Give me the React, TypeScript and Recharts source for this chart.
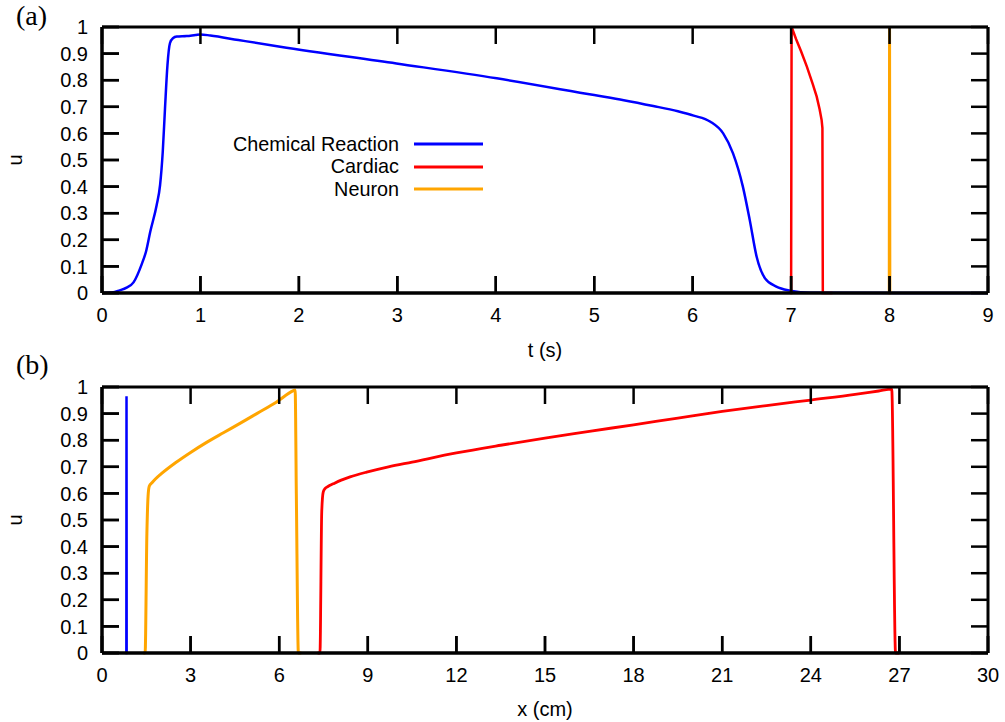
import React from "react";
import { Legend, Line, LineChart, ReferenceLine, XAxis, YAxis } from "recharts";

// panel (a): u against t (s)
const chemT = [0, 0.1, 0.18, 0.25, 0.32, 0.4, 0.45, 0.49, 0.555, 0.59, 0.617, 0.64, 0.665, 0.69, 0.72, 0.76, 0.86, 0.95, 1.0, 1.1, 1.385, 1.81, 2.99, 4.01, 5.0, 5.3, 5.6, 5.85, 6.01, 6.18, 6.31, 6.41, 6.51, 6.58, 6.65, 6.735, 6.85, 6.99, 7.2, 9];
const chemU = [0, 0.002, 0.01, 0.02, 0.04, 0.105, 0.16, 0.23, 0.33, 0.406, 0.53, 0.694, 0.857, 0.939, 0.958, 0.964, 0.966, 0.97, 0.972, 0.968, 0.951, 0.926, 0.863, 0.807, 0.744, 0.725, 0.703, 0.683, 0.667, 0.644, 0.6, 0.525, 0.4, 0.274, 0.136, 0.055, 0.024, 0.009, 0.001, 0];

const cardT = [6.99, 7.0, 7.005, 7.05, 7.1, 7.16, 7.22, 7.26, 7.29, 7.31, 7.318, 7.322, 7.42];
const cardU = [0, 0, 1.0, 0.955, 0.91, 0.851, 0.785, 0.738, 0.69, 0.65, 0.62, 0, 0];

const neurT = [7.99, 7.997, 8.0, 8.003, 8.01];
const neurU = [0, 0, 1.0, 0, 0];

// panel (b): u against x (cm)
const chemX = [0.8, 0.825, 0.83, 0.835, 0.86];
const chemXU = [0, 0, 0.965, 0, 0];

const cardX = [7.3, 7.38, 7.44, 7.49, 7.55, 7.65, 7.83, 8.1, 8.4, 8.96, 9.7, 10.5, 12, 13.5, 15, 16.5, 18, 19.5, 21, 22.5, 24, 25.5, 26.3, 26.74, 26.87, 27.0];
const cardXU = [0, 0, 0.53, 0.605, 0.618, 0.626, 0.636, 0.65, 0.662, 0.68, 0.7, 0.718, 0.752, 0.781, 0.808, 0.833, 0.858, 0.883, 0.908, 0.93, 0.951, 0.972, 0.985, 0.992, 0, 0];

const neurX = [1.4, 1.46, 1.52, 1.56, 1.6, 1.7, 1.8, 2.0, 2.5, 3.0, 3.5, 4.11, 4.7, 5.24, 5.9, 6.48, 6.54, 6.58, 6.65, 6.75];
const neurXU = [0, 0, 0.45, 0.59, 0.627, 0.641, 0.653, 0.673, 0.716, 0.754, 0.789, 0.828, 0.865, 0.9, 0.943, 0.986, 0.989, 0.6, 0, 0];

const tTicks = [0, 1, 2, 3, 4, 5, 6, 7, 8, 9];
const xTicks = [0, 3, 6, 9, 12, 15, 18, 21, 24, 27, 30];
const uTicks = [0, 0.1, 0.2, 0.3, 0.4, 0.5, 0.6, 0.7, 0.8, 0.9, 1];

const seriesNames = ["Chemical Reaction", "Cardiac", "Neuron"];
const COLORS = ["#0000ff", "#ff0000", "#ffa500"];

const FONT = '"Liberation Sans", Arial, Helvetica, sans-serif';
const SERIF = '"Liberation Serif", "Times New Roman", serif';
const TICK = 17;
const PLOT_W = 886;
const PLOT_H = 266;
const EPS = 1e-6;

// keep reference coordinates off an exact zero
const nz = (v: number) => (v === 0 ? EPS : v);

const zip = (xs: number[], ys: number[]) => xs.map((x, i) => ({ x, u: ys[i] }));

const seriesA = [zip(chemT, chemU), zip(cardT, cardU), zip(neurT, neurU)];
const seriesB = [zip(chemX, chemXU), zip(cardX, cardXU), zip(neurX, neurXU)];

function renderLegend({ payload }: any) {
  const items = [...(payload || [])].sort(
    (a: any, b: any) => seriesNames.indexOf(a.value) - seriesNames.indexOf(b.value)
  );
  return (
    <div style={{ fontFamily: FONT, fontSize: 19.8, color: "#000" }}>
      {items.map((entry: any) => (
        <div key={entry.value} style={{ display: "flex", alignItems: "center", height: 22.5 }}>
          <span style={{ width: 199, textAlign: "right", whiteSpace: "nowrap" }}>{entry.value}</span>
          <svg width={84} height={6}>
            <line x1={15} x2={84} y1={3} y2={3} stroke={entry.color} strokeWidth={3} />
          </svg>
        </div>
      ))}
    </div>
  );
}

function Panel({
  series,
  ticks,
  domain,
  height,
  top,
  curve,
  widths,
  legend,
}: {
  series: { x: number; u: number }[][];
  ticks: number[];
  domain: [number, number];
  height: number;
  top: number;
  curve: ("monotone" | "linear")[];
  widths: number[];
  legend?: boolean;
}) {
  const [x0, x1] = domain;
  const xl = nz(x0);
  const dx = (TICK * (x1 - x0)) / PLOT_W;
  const du = TICK / PLOT_H;
  const tickStyle = { stroke: "#000", strokeWidth: 2.5, ifOverflow: "visible" as const };
  const edgeStyle = { stroke: "#000", strokeWidth: 3, ifOverflow: "visible" as const };
  return (
    <LineChart
      width={1005}
      height={height}
      margin={{ top, right: 17, bottom: height - top - PLOT_H - 30, left: 42 }}
      style={{ fontFamily: FONT, fontSize: 20 }}
    >
      {series.map((data, i) => (
        <Line
          key={seriesNames[i]}
          data={data}
          dataKey="u"
          name={seriesNames[i]}
          type={curve[i]}
          stroke={COLORS[i]}
          strokeWidth={widths[i]}
          dot={false}
          isAnimationActive={false}
        />
      ))}
      <XAxis
        dataKey="x"
        type="number"
        domain={domain}
        ticks={ticks}
        interval={0}
        height={30}
        stroke="#000"
        tickSize={-TICK}
        tickMargin={TICK + 15}
        tickLine={{ stroke: "#000", strokeWidth: 2.5 }}
        axisLine={{ stroke: "#000", strokeWidth: 3 }}
      />
      <YAxis
        type="number"
        domain={[0, 1]}
        ticks={uTicks}
        interval={0}
        width={60}
        stroke="#000"
        tickSize={-TICK}
        tickMargin={TICK + 14}
        tickLine={{ stroke: "#000", strokeWidth: 2.5 }}
        axisLine={{ stroke: "#000", strokeWidth: 3 }}
      />
      {/* plot frame, drawn through the chart scales */}
      <ReferenceLine segment={[{ x: xl, y: 1 }, { x: x1, y: 1 }]} {...edgeStyle} />
      <ReferenceLine segment={[{ x: x1, y: 1 }, { x: x1, y: EPS }]} {...edgeStyle} />
      <ReferenceLine segment={[{ x: x1, y: EPS }, { x: xl, y: EPS }]} {...edgeStyle} />
      <ReferenceLine segment={[{ x: xl, y: 1 }, { x: xl, y: EPS }]} {...edgeStyle} />
      {/* inward ticks on all four edges */}
      {ticks.map((v) => (
        <ReferenceLine key={`t-${v}`} segment={[{ x: nz(v), y: 1 }, { x: nz(v), y: 1 - du }]} {...tickStyle} />
      ))}
      {ticks.map((v) => (
        <ReferenceLine key={`b-${v}`} segment={[{ x: nz(v), y: du }, { x: nz(v), y: EPS }]} {...tickStyle} />
      ))}
      {uTicks.map((v) => (
        <ReferenceLine key={`r-${v}`} segment={[{ x: x1, y: nz(v) }, { x: x1 - dx, y: nz(v) }]} {...tickStyle} />
      ))}
      {uTicks.map((v) => (
        <ReferenceLine key={`l-${v}`} segment={[{ x: x0 + dx, y: nz(v) }, { x: xl, y: nz(v) }]} {...tickStyle} />
      ))}
      {legend && (
        <Legend
          layout="vertical"
          align="center"
          verticalAlign="middle"
          content={renderLegend}
          wrapperStyle={{ left: 200, top: 133, width: 290 }}
        />
      )}
    </LineChart>
  );
}

const textBase: React.CSSProperties = { position: "absolute", color: "#000", whiteSpace: "nowrap" };

export default function App() {
  return (
    <div style={{ position: "absolute", left: 0, top: 0, width: 1005, height: 722, background: "#fff" }}>
      <div style={{ position: "absolute", left: 0, top: 0 }}>
        <Panel
          series={seriesA}
          ticks={tTicks}
          domain={[0, 9]}
          height={345}
          top={27}
          curve={["monotone", "linear", "linear"]}
          widths={[2.5, 2.5, 3]}
          legend
        />
      </div>
      <div style={{ position: "absolute", left: 0, top: 345 }}>
        <Panel
          series={seriesB}
          ticks={xTicks}
          domain={[0, 30]}
          height={377}
          top={42}
          curve={["linear", "monotone", "monotone"]}
          widths={[2.5, 2.8, 3]}
        />
      </div>
      <div style={{ ...textBase, left: 16, top: 2, fontFamily: SERIF, fontSize: 28, lineHeight: "28px" }}>(a)</div>
      <div style={{ ...textBase, left: 16, top: 351, fontFamily: SERIF, fontSize: 28, lineHeight: "28px" }}>(b)</div>
      <div style={{ ...textBase, left: 445, width: 200, top: 340, textAlign: "center", fontFamily: FONT, fontSize: 20, lineHeight: "20px" }}>t (s)</div>
      <div style={{ ...textBase, left: 445, width: 200, top: 699, textAlign: "center", fontFamily: FONT, fontSize: 20, lineHeight: "20px" }}>x (cm)</div>
      <div style={{ ...textBase, left: 15, top: 160, transform: "translate(-50%, -50%) rotate(-90deg)", fontFamily: FONT, fontSize: 20, lineHeight: "20px" }}>u</div>
      <div style={{ ...textBase, left: 15, top: 520, transform: "translate(-50%, -50%) rotate(-90deg)", fontFamily: FONT, fontSize: 20, lineHeight: "20px" }}>u</div>
    </div>
  );
}
